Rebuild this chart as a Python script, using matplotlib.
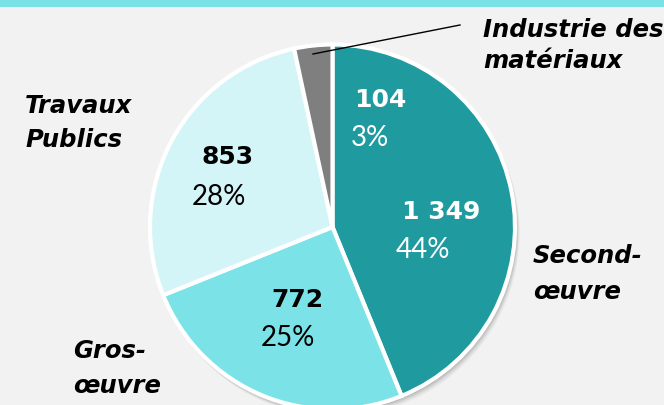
import matplotlib
matplotlib.use("Agg")
import matplotlib.pyplot as plt
from matplotlib.patches import Circle, Rectangle

categories = ["Second-\nœuvre", "Gros-\nœuvre", "Travaux\nPublics", "Industrie des\nmatériaux"]
values = [1349, 772, 853, 104]
value_labels = ["1 349", "772", "853", "104"]
colors = ["#1f9ba0", "#7be2e7", "#d4f5f7", "#7f7f7f"]
value_colors = ["white", "black", "black", "white"]

W, H = 664, 405
fig = plt.figure(figsize=(W / 100, H / 100), dpi=100)
fig.patch.set_facecolor("#f2f2f2")
ax = fig.add_axes([0, 0, 1, 1])
ax.set_facecolor("#f2f2f2")
ax.axis("off")

cx, cy, r = 332.5, 227, 182.5

# soft shadow
for dx, a in [(6, 0.04), (4.5, 0.06), (3, 0.08), (1.5, 0.1)]:
    ax.add_patch(Circle((cx + dx * 0.6, cy + dx), r + 1, color="#000000", alpha=a, lw=0, zorder=0))

total = sum(values)
# y axis is inverted (pixel coords), so screen-clockwise from top = data counterclockwise from -90
wedges, _ = ax.pie(values, colors=colors, startangle=-90, counterclock=True,
                   center=(cx, cy), radius=r,
                   wedgeprops=dict(edgecolor="white", linewidth=3))
ax.set_xlim(0, W)
ax.set_ylim(H, 0)
ax.set_aspect("equal")

# Top band
ax.add_patch(Rectangle((0, 0), W, 7, color="#7ae2e6", lw=0, zorder=5))

pct = [round(v / total * 100) for v in values]
val_pos = [(441, 212), (297, 300), (228, 157), (380, 100)]
pct_pos = [(423, 250), (288, 338), (219, 197), (370, 138)]
for i in range(len(values)):
    ax.text(*val_pos[i], value_labels[i], ha="center", va="center", fontsize=18,
            fontweight="bold", family="DejaVu Sans", color=value_colors[i], zorder=6)
    ax.text(*pct_pos[i], f"{pct[i]}%", ha="center", va="center", fontsize=20,
            fontweight="normal", family="Lato", color=value_colors[i], zorder=6)

cat_x = [533, 73, 25, 483]
cat_baselines = [(263, 299), (358, 393), (113, 147), (37, 68)]
for i, c in enumerate(categories):
    for line, yb in zip(c.split("\n"), cat_baselines[i]):
        ax.text(cat_x[i], yb, line, ha="left", va="baseline", fontsize=17.5, fontweight="bold",
                fontstyle="italic", family="DejaVu Sans", color="black", zorder=6)

ax.plot([313, 460], [54, 25], color="black", lw=1, zorder=6)

fig.savefig("out.png", dpi=100, facecolor=fig.get_facecolor())
